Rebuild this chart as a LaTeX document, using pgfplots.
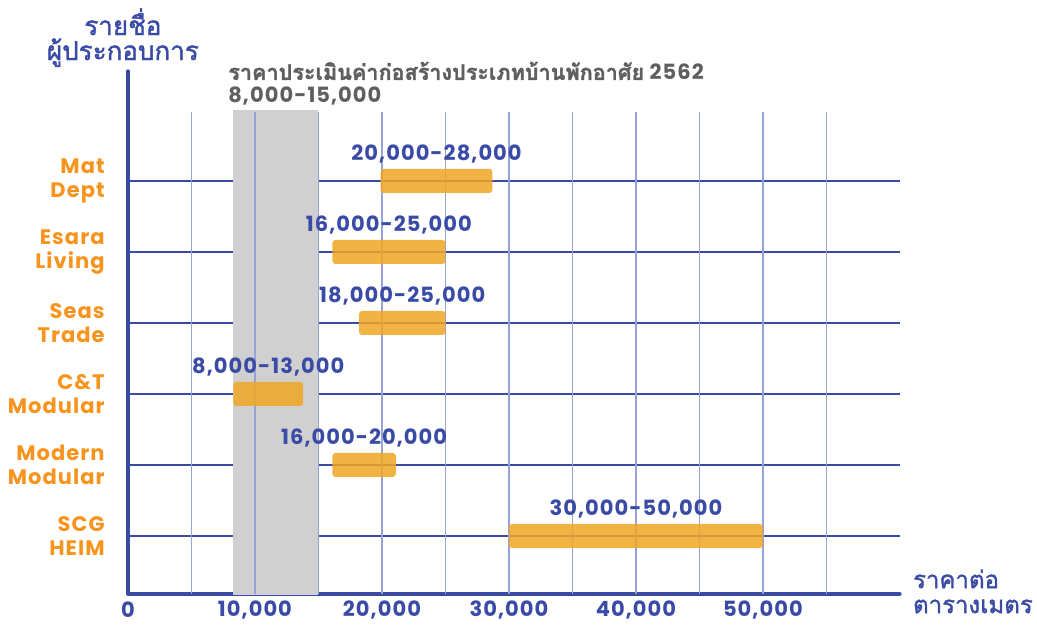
\documentclass[border=0pt]{standalone}
\usepackage{fontspec}
\setmainfont{Poppins}[LetterSpace=5]
\newfontfamily\thai[Script=Thai, FakeBold=1.6]{Loma}
\usepackage{pgfplots}
\pgfplotsset{compat=1.18}
\definecolor{tblue}{RGB}{58,75,165}
\definecolor{vgridc}{RGB}{150,163,215}
\definecolor{torange}{RGB}{247,148,30}
\definecolor{barorange}{RGB}{239,166,35}
\definecolor{bandgray}{RGB}{208,208,208}
\definecolor{tgray}{RGB}{95,95,95}
\tikzset{lbl/.style={font=\bfseries\fontsize{10.5}{12}\selectfont, text=tblue, anchor=base, yshift=10.25pt}}
\pgfplotsset{bar/.style={fill=barorange, fill opacity=0.85, draw=none, rounded corners=1.5pt, forget plot}}
\begin{document}
\begin{tikzpicture}
\begin{axis}[
  scale only axis, width=386pt, height=261.5pt,
  xmin=0, xmax=60800, ymin=0.183, ymax=7.549,
  axis x line=bottom, axis y line=left,
  axis line style={-, line width=1.6pt, tblue, line cap=round},
  xtick={0,10000,20000,30000,40000,50000},
  xticklabels={0,{10,000},{20,000},{30,000},{40,000},{50,000}},
  ytick={1,2,3,4,5,6},
  yticklabels={{SCG\\HEIM},{Modern\\Modular},{C\&T\\Modular},{Seas\\Trade},{Esara\\Living},{Mat\\Dept}},
  major tick length=0pt,
  ymajorgrids, grid style={tblue, line width=0.7pt},
  xticklabel style={font=\bfseries\fontsize{10.5}{12}\selectfont, text=tblue, anchor=center, yshift=-7.8pt},
  yticklabel style={font=\bfseries\fontsize{10.5}{12}\selectfont, text=torange, align=right, anchor=east, inner sep=0pt, xshift=-11.5pt},
  clip=false,
]
% benchmark band 8,000-15,000
\addplot[fill=bandgray, draw=none, forget plot] coordinates {(8300,0.17) (15000,0.17) (15000,7.0) (8300,7.0)} -- cycle;
% vertical grid lines
\addplot[vgridc, line width=0.75pt, unbounded coords=jump, forget plot] coordinates {
(5000,0.183) (5000,6.97) (5000,inf)
(10000,0.183) (10000,6.97) (10000,inf)
(15000,0.183) (15000,6.97) (15000,inf)
(20000,0.183) (20000,6.97) (20000,inf)
(25000,0.183) (25000,6.97) (25000,inf)
(30000,0.183) (30000,6.97) (30000,inf)
(35000,0.183) (35000,6.97) (35000,inf)
(40000,0.183) (40000,6.97) (40000,inf)
(45000,0.183) (45000,6.97) (45000,inf)
(50000,0.183) (50000,6.97) (50000,inf)
(55000,0.183) (55000,6.97)};
% price ranges (start, end) per company, bar thickness 0.338
\addplot[bar] coordinates {(30000,0.831) (50000,0.831) (50000,1.169) (30000,1.169)} -- cycle;
\addplot[bar] coordinates {(16100,1.831) (21100,1.831) (21100,2.169) (16100,2.169)} -- cycle;
\addplot[bar] coordinates {(8300,2.831) (13800,2.831) (13800,3.169) (8300,3.169)} -- cycle;
\addplot[bar] coordinates {(18200,3.831) (25000,3.831) (25000,4.169) (18200,4.169)} -- cycle;
\addplot[bar] coordinates {(16100,4.831) (25000,4.831) (25000,5.169) (16100,5.169)} -- cycle;
\addplot[bar] coordinates {(19900,5.831) (28700,5.831) (28700,6.169) (19900,6.169)} -- cycle;
\node[lbl] at (axis cs:40000,1) {30,000-50,000};
\node[lbl] at (axis cs:18600,2) {16,000-20,000};
\node[lbl] at (axis cs:11050,3) {8,000-13,000};
\node[lbl] at (axis cs:21600,4) {18,000-25,000};
\node[lbl] at (axis cs:20550,5) {16,000-25,000};
\node[lbl] at (axis cs:24300,6) {20,000-28,000};
\node[text=tblue, align=center, font=\thai\fontsize{13}{12.5}\selectfont] at (axis cs:-400,8.02) {รายชื่อ\\ผู้ประกอบการ};
\node[text=tgray, anchor=west, align=left, inner sep=0pt, font=\bfseries\fontsize{10.5}{11.5}\selectfont] at (axis cs:7870,7.37) {{\thai\fontsize{10.8}{11.5}\selectfont ราคาประเมินค่าก่อสร้างประเภทบ้านพักอาศัย} 2562\\8,000-15,000};
\node[text=tblue, anchor=west, align=left, inner sep=0pt, font=\thai\fontsize{12}{12.5}\selectfont] at (axis cs:61800,0.22) {ราคาต่อ\\ตารางเมตร};
\coordinate (O) at (rel axis cs:0,0);
\coordinate (T) at (rel axis cs:1,1);
\end{axis}
\pgfresetboundingbox
\path ([shift={(-64pt,-15pt)}]O) rectangle ([shift={(68.5pt,35.5pt)}]T);
\end{tikzpicture}
\end{document}
